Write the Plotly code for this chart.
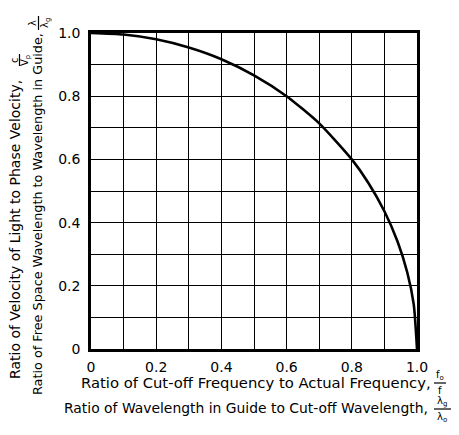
import plotly.graph_objects as go

# Curve values
ratio_x = [0.0, 0.1, 0.2, 0.3, 0.4, 0.5, 0.6, 0.7, 0.8, 0.85, 0.9, 0.94, 0.97, 0.99, 1.0]
ratio_y = [1.0, 0.995, 0.98, 0.954, 0.917, 0.866, 0.8, 0.714, 0.6, 0.527, 0.436, 0.341, 0.243, 0.141, 0.0]

tick_vals = [0.0, 0.2, 0.4, 0.6, 0.8, 1.0]
x_tick_text = ["0", "0.2", "0.4", "0.6", "0.8", "1.0"]
y_tick_text = ["0", "0.2", "0.4", "0.6", "0.8", "1.0"]

FONT = "DejaVu Sans"
W, H = 459, 435
OFF = 8  # page body margin
# target plot box in page pixels
PL, PR, PT, PB = 91, 417, 33, 349
L, T = PL - OFF, PT - OFF
R, B = W - (PR - OFF), H - (PB - OFF)
PW, PH = PR - PL, PB - PT


def px(x):
    return (x - PL) / PW


def py(y):
    return (PB - y) / PH


fig = go.Figure()
fig.add_trace(go.Scatter(
    x=ratio_x, y=ratio_y, mode="lines",
    line=dict(color="black", width=2.6, shape="spline", smoothing=0.6),
    hoverinfo="skip", showlegend=False,
))

axis_common = dict(
    range=[0, 1], tickvals=tick_vals, showgrid=True, gridcolor="black", gridwidth=1.3,
    minor=dict(dtick=0.1, tick0=0, showgrid=True, gridcolor="black", gridwidth=1.3, ticks=""),
    showline=True, linecolor="black", linewidth=2.5, mirror=True, zeroline=False,
    ticks="", tickfont=dict(family=FONT, size=14, color="black"),
)
fig.update_xaxes(**axis_common, ticktext=x_tick_text, ticklabelstandoff=3)
fig.update_yaxes(**axis_common, ticktext=y_tick_text, ticklabelstandoff=5)

ann = []
sf = dict(family=FONT, size=10, color="black")


def tf(size):
    return dict(family=FONT, size=size, color="black")


def add(x, y, text, font, xa="center", ya="middle", angle=0):
    ann.append(dict(x=px(x), y=py(y), xref="paper", yref="paper", xanchor=xa, yanchor=ya,
                    text=text, textangle=angle, showarrow=False, font=font))


# x titles
add(256, 383, "Ratio of Cut-off Frequency to Actual Frequency,", tf(14.8))
add(440, 375, "f<sub>o</sub>", sf)
add(440, 390, "f", sf)
add(246, 408, "Ratio of Wavelength in Guide to Cut-off Wavelength,", tf(13.9))
add(442, 401, "λ<sub>g</sub>", sf)
add(442, 417, "λ<sub>o</sub>", sf)
# y titles
add(15, 230, "Ratio of Velocity of Light to Phase Velocity,", tf(14), angle=-90)
add(14, 60, "c", sf, angle=-90)
add(25, 60, "V<sub>p</sub>", sf, angle=-90)
add(38, 214, "Ratio of Free Space Wavelength to Wavelength in Guide,", tf(12.8), angle=-90)
add(32, 23, "λ", sf, angle=-90)
add(45, 23, "λ<sub>g</sub>", sf, angle=-90)

shapes = [
    dict(type="line", xref="paper", yref="paper", x0=px(434), x1=px(446), y0=py(383), y1=py(383),
         line=dict(color="black", width=1.2)),
    dict(type="line", xref="paper", yref="paper", x0=px(434), x1=px(451), y0=py(409), y1=py(409),
         line=dict(color="black", width=1.2)),
    dict(type="line", xref="paper", yref="paper", x0=px(19.5), x1=px(19.5), y0=py(54), y1=py(66),
         line=dict(color="black", width=1.2)),
    dict(type="line", xref="paper", yref="paper", x0=px(38.5), x1=px(38.5), y0=py(16), y1=py(30),
         line=dict(color="black", width=1.2)),
]

fig.update_layout(
    width=W, height=H, margin=dict(l=L, r=R, t=T, b=B),
    paper_bgcolor="white", plot_bgcolor="white",
    annotations=ann, shapes=shapes, showlegend=False,
)
fig.write_html("out.html")
